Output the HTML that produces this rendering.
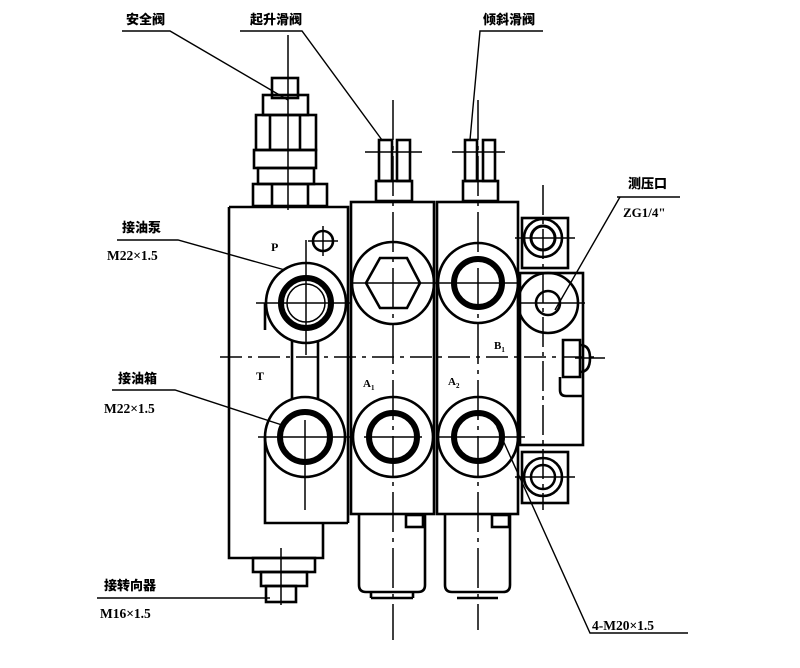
<!DOCTYPE html>
<html><head><meta charset="utf-8"><style>
html,body{margin:0;padding:0;background:#fff;}
svg{display:block}
text{font-family:"Liberation Serif","Noto Serif CJK SC",serif;font-weight:bold;fill:#000}
.c{font-family:"Liberation Sans","Noto Sans CJK SC",sans-serif;font-weight:900}
</style></head><body>
<svg width="800" height="668" viewBox="0 0 800 668" xmlns="http://www.w3.org/2000/svg">
<g fill="none" stroke="#000" stroke-width="2.6">
<rect x="272" y="78" width="26" height="20"/>
<rect x="263" y="95" width="45" height="20"/>
<rect x="256" y="115" width="60" height="35"/>
<rect x="254" y="150" width="62" height="18"/>
<rect x="258" y="168" width="56" height="16"/>
<rect x="253" y="184" width="74" height="22"/>
<line x1="270" y1="115" x2="270" y2="150"/><line x1="300" y1="115" x2="300" y2="150"/>
<line x1="272" y1="184" x2="272" y2="205"/><line x1="308" y1="184" x2="308" y2="205"/>
<path d="M229 207 H348 V523 M323 523 V558 H229 V207"/>
<path d="M265 437 V523 H348"/>
<path d="M265 303 V330"/>
<circle cx="306" cy="303" r="40"/>
<circle cx="306" cy="303" r="25" stroke-width="6"/>
<circle cx="306" cy="303" r="19" stroke-width="1.5"/>
<circle cx="323" cy="241" r="10"/>
<line x1="292" y1="340" x2="292" y2="400"/><line x1="318" y1="340" x2="318" y2="400"/>
<circle cx="305" cy="437" r="40"/>
<circle cx="305" cy="437" r="25" stroke-width="6"/>
<rect x="253" y="558" width="62" height="14"/>
<rect x="261" y="572" width="46" height="14"/>
<rect x="266" y="586" width="30" height="16"/>
<rect x="351" y="202" width="83" height="312"/>
<rect x="376" y="181" width="36" height="20"/>
<rect x="379" y="140" width="13" height="41"/>
<rect x="397" y="140" width="13" height="41"/>
<circle cx="393" cy="283" r="41"/>
<polygon points="366,283 380,258 407,258 420,283 407,308 380,308"/>
<circle cx="393" cy="437" r="40"/>
<circle cx="393" cy="437" r="24" stroke-width="6"/>
<path d="M359 515 V585 Q359 592 366 592 H418 Q425 592 425 585 V515"/>
<rect x="406" y="515" width="17" height="12"/>
<line x1="371" y1="592" x2="371" y2="598"/><line x1="413" y1="592" x2="413" y2="598"/><line x1="371" y1="598" x2="413" y2="598"/>
<rect x="437" y="202" width="81" height="312"/>
<rect x="463" y="181" width="35" height="20"/>
<rect x="465" y="140" width="12" height="41"/>
<rect x="483" y="140" width="12" height="41"/>
<circle cx="478" cy="283" r="40"/>
<circle cx="478" cy="283" r="24" stroke-width="6"/>
<circle cx="478" cy="437" r="40"/>
<circle cx="478" cy="437" r="24" stroke-width="6"/>
<path d="M445 515 V585 Q445 592 452 592 H503 Q510 592 510 585 V515"/>
<rect x="492" y="515" width="17" height="12"/>
<line x1="457" y1="598" x2="498" y2="598"/>
<rect x="522" y="218" width="46" height="50"/>
<circle cx="543" cy="238" r="19"/><circle cx="543" cy="238" r="12" stroke-width="3"/>
<rect x="520" y="273" width="63" height="172"/>
<circle cx="548" cy="303" r="30"/><circle cx="548" cy="303" r="12"/>
<path d="M563 340 H580 V377 H563 Z"/><path d="M580 345 Q590 345 590 358 Q590 372 580 372"/>
<path d="M560 377 V390 Q560 396 566 396 H583"/>
<rect x="522" y="452" width="46" height="51"/>
<circle cx="543" cy="477" r="19"/><circle cx="543" cy="477" r="12" stroke-width="2.5"/>
</g>
<g stroke="#000" stroke-width="1.5" fill="none">
<line x1="220" y1="357" x2="600" y2="357" stroke-dasharray="22,6,4,6"/>
<line x1="288" y1="35" x2="288" y2="210"/>
<line x1="393" y1="100" x2="393" y2="640" stroke-dasharray="40,6,4,6"/>
<line x1="478" y1="100" x2="478" y2="630" stroke-dasharray="40,6,4,6"/>
<line x1="543" y1="185" x2="543" y2="510" stroke-dasharray="30,5,4,5"/>
<line x1="365" y1="152" x2="422" y2="152"/><line x1="452" y1="152" x2="505" y2="152"/>
<line x1="256" y1="303" x2="350" y2="303"/><line x1="306" y1="240" x2="306" y2="355"/>
<line x1="258" y1="437" x2="350" y2="437"/><line x1="305" y1="420" x2="305" y2="510"/>
<line x1="364" y1="437" x2="422" y2="437"/><line x1="350" y1="283" x2="436" y2="283"/>
<line x1="436" y1="283" x2="520" y2="283"/><line x1="436" y1="437" x2="525" y2="437"/>
<line x1="518" y1="303" x2="585" y2="303"/><line x1="515" y1="238" x2="575" y2="238"/>
<line x1="515" y1="477" x2="575" y2="477"/><line x1="575" y1="358" x2="605" y2="358"/>
<line x1="308" y1="241" x2="338" y2="241"/><line x1="323" y1="226" x2="323" y2="256"/>
<line x1="281" y1="548" x2="281" y2="605"/>
</g>
<g stroke="#000" stroke-width="1.4" fill="none">
<polyline points="122,31 170,31 288,100"/>
<polyline points="240,31 302,31 382,140"/>
<polyline points="543,31 480,31 470,140"/>
<polyline points="617,197 680,197"/><line x1="620" y1="197" x2="555" y2="310"/>
<polyline points="117,240 178,240 285,270"/>
<polyline points="112,390 175,390 282,425"/>
<polyline points="97,598 270,598"/>
<polyline points="497,427 590,633 688,633"/>
</g>
<g font-size="13">
<text class="c" x="126" y="24">安全阀</text>
<text class="c" x="250" y="24">起升滑阀</text>
<text class="c" x="483" y="24">倾斜滑阀</text>
<text class="c" x="628" y="188">测压口</text>
<text x="623" y="217" font-size="13">ZG1/4"</text>
<text class="c" x="122" y="232">接油泵</text>
<text x="107" y="260" font-size="13.5">M22×1.5</text>
<text class="c" x="118" y="383">接油箱</text>
<text x="104" y="413" font-size="13.5">M22×1.5</text>
<text class="c" x="104" y="590">接转向器</text>
<text x="100" y="618" font-size="13.5">M16×1.5</text>
<text x="592" y="630" font-size="13.5">4-M20×1.5</text>
<text x="271" y="251" font-size="12">P</text>
<text x="256" y="380" font-size="12">T</text>
<text x="363" y="387" font-size="11">A<tspan font-size="7" dy="3">1</tspan></text>
<text x="448" y="385" font-size="11">A<tspan font-size="7" dy="3">2</tspan></text>
<text x="494" y="349" font-size="11">B<tspan font-size="7" dy="3">1</tspan></text>
</g>
</svg>
</body></html>
